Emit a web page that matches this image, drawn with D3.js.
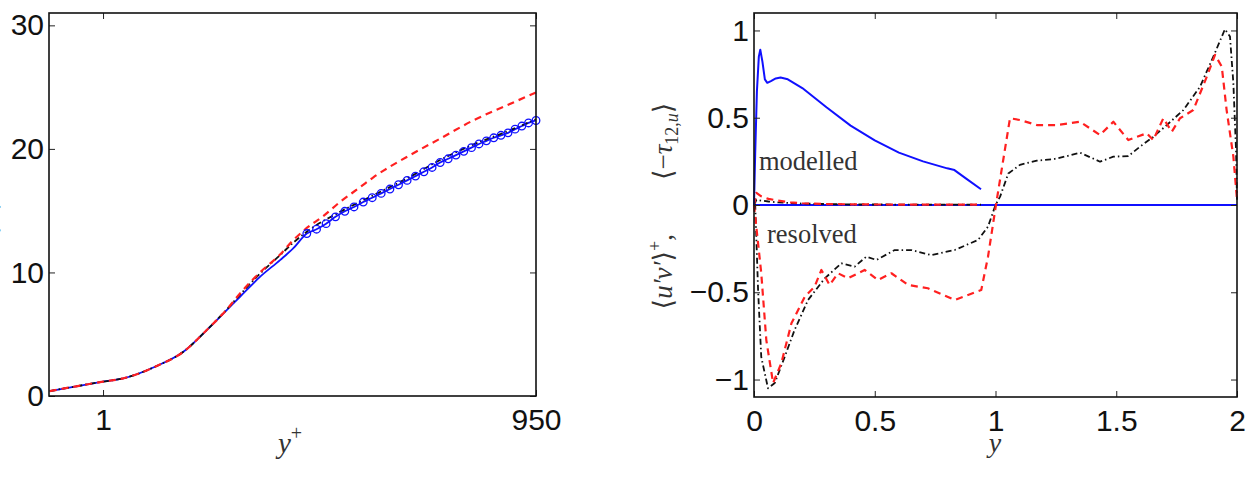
<!DOCTYPE html>
<html>
<head>
<meta charset="utf-8">
<script src="https://cdn.jsdelivr.net/npm/d3@7"></script>
<style>
  body { margin: 0; background: #fff; }
  svg { display: block; }
  .tick text { font-family: "Liberation Sans", Arial, sans-serif; font-size: 30px; fill: #111; }
  .tick line { stroke: #222; stroke-width: 1; }
  .serif { font-family: "Liberation Serif", "DejaVu Serif", serif; }
</style>
</head>
<body>
<div class="chart"></div>
<script>
// ---- left panel: mean velocity vs y+ (log axis) ----
const wallYPlus = [0.43, 1.0, 1.38, 2.34, 3.57, 5.17, 7.09, 8.75, 12.0, 16.5, 20.3];
const wallU     = [0.4, 1.16, 1.43, 2.43, 3.58, 5.34, 6.95, 8.03, 9.64, 11.0, 11.94];
const circleYPlus = [25.2, 29.4, 34.2, 39.7, 46.0, 53.2, 61.6, 71.0, 81.8, 94.0, 107.7, 123.4, 140.9, 161.0,
  183.2, 208.3, 236.5, 267.4, 302.7, 342.0, 385.2, 433.3, 486.3, 545.4, 610.0, 682.0, 759.0, 844.0, 950];
const circleU = [13.15, 13.5, 13.95, 14.5, 14.95, 15.3, 15.7, 16.05, 16.4, 16.75, 17.1, 17.45, 17.8, 18.15,
  18.5, 18.9, 19.2, 19.5, 19.8, 20.1, 20.4, 20.65, 20.9, 21.1, 21.3, 21.6, 21.85, 22.1, 22.3];
const redYPlus = [0.43, 1.0, 1.38, 2.34, 3.57, 5.17, 7.09, 8.75, 12.0, 16.5, 20.3, 25.2, 32.6, 42.6, 58.6, 72.3, 122.7, 208, 352, 597, 950];
const redU     = [0.4, 1.16, 1.43, 2.43, 3.58, 5.34, 7.0, 8.3, 10.0, 11.45, 12.6, 13.6, 14.55, 15.7, 16.9, 17.7, 19.35, 20.83, 22.31, 23.52, 24.57];
const blackYPlus = [0.43, 1.0, 1.38, 2.34, 3.57, 5.17, 7.09, 8.75, 12.0, 16.5, 20.3, 25.2, 42.6, 72.3, 122.7, 208, 352, 597, 950];
const blackU     = [0.4, 1.16, 1.43, 2.43, 3.58, 5.34, 7.0, 8.2, 9.9, 11.4, 12.4, 13.3, 14.9, 16.25, 17.6, 19.1, 20.35, 21.4, 22.4];
const leftXTicks = [1, 950];
const leftYTicks = [0, 10, 20, 30];

// ---- right panel: shear stresses vs y ----
const modBlueY = [0, 0.005, 0.012, 0.02, 0.026, 0.035, 0.045, 0.055, 0.07, 0.09, 0.11, 0.14, 0.2, 0.3, 0.4, 0.5, 0.6, 0.7, 0.8, 0.83, 0.88, 0.94];
const modBlueV = [0, 0.3, 0.65, 0.85, 0.89, 0.82, 0.72, 0.70, 0.71, 0.725, 0.73, 0.72, 0.67, 0.56, 0.455, 0.37, 0.3, 0.25, 0.21, 0.2, 0.15, 0.09];
const modRedY = [0, 0.01, 0.03, 0.06, 0.1, 0.15, 0.2, 0.3, 0.5, 0.7, 0.94];
const modRedV = [0, 0.07, 0.05, 0.035, 0.025, 0.015, 0.01, 0.005, 0.003, 0.002, 0.002];
const modBlackY = [0, 0.01, 0.03, 0.06, 0.1, 0.2, 0.4, 0.94];
const modBlackV = [0, 0.03, 0.025, 0.02, 0.015, 0.008, 0.003, 0.002];
const resBlueY = [0, 2];
const resBlueV = [0, 0];
const resBlackY = [0, 0.005, 0.017, 0.03, 0.058, 0.086, 0.127, 0.168, 0.224, 0.293, 0.362, 0.417, 0.465, 0.507, 0.583, 0.651, 0.734, 0.831, 0.928, 0.969, 1.0,
  1.019, 1.053, 1.101, 1.171, 1.239, 1.295, 1.35, 1.433, 1.488, 1.55, 1.598, 1.653, 1.709, 1.778, 1.847, 1.902, 1.95, 1.971, 1.985, 1.996, 2.0];
const resBlackV = [0, 0, -0.49, -0.87, -1.05, -1.02, -0.87, -0.716, -0.544, -0.42, -0.334, -0.353, -0.296, -0.315, -0.258, -0.258, -0.287, -0.258, -0.2, -0.124, 0,
  0.048, 0.18, 0.23, 0.254, 0.262, 0.28, 0.30, 0.248, 0.277, 0.28, 0.334, 0.39, 0.458, 0.544, 0.678, 0.85, 1.007, 0.965, 0.697, 0.315, 0.03];
const resRedY = [0, 0.03, 0.051, 0.079, 0.113, 0.155, 0.21, 0.251, 0.279, 0.313, 0.348, 0.389, 0.458, 0.513, 0.569, 0.638, 0.72, 0.831, 0.941, 0.969, 1.003,
  1.032, 1.06, 1.101, 1.171, 1.253, 1.35, 1.433, 1.488, 1.55, 1.626, 1.653, 1.695, 1.73, 1.764, 1.819, 1.875, 1.909, 1.937, 1.957, 1.985, 2.0];
const resRedV = [0, -0.39, -0.774, -1.02, -0.907, -0.678, -0.526, -0.468, -0.372, -0.458, -0.391, -0.42, -0.372, -0.43, -0.391, -0.458, -0.477, -0.544, -0.487, -0.296, 0.01,
  0.258, 0.497, 0.487, 0.458, 0.458, 0.477, 0.401, 0.477, 0.372, 0.411, 0.372, 0.497, 0.42, 0.497, 0.544, 0.735, 0.86, 0.793, 0.544, 0.277, 0.03];
const rightXTicks = [0, 0.5, 1, 1.5, 2];
const rightYTicks = [-1, -0.5, 0, 0.5, 1];

const width = 1248, height = 478;
const svg = d3.select('.chart').append('svg')
  .attr('width', width).attr('height', height);

const zip = (xs, ys) => xs.map((x, i) => [x, ys[i]]);
const fmt = d => d < 0 ? '\u2212' + Math.abs(d) : String(d);

function frame(x, y, xTicks, yTicks) {
  const [x0, x1] = x.range(), [y0, y1] = y.range();
  const g = svg.append('g');
  g.append('g').attr('transform', `translate(0,${y0})`)
    .call(d3.axisBottom(x).tickValues(xTicks).tickFormat(fmt).tickSize(-6).tickSizeOuter(0).tickPadding(13));
  g.append('g').attr('transform', `translate(0,${y1})`)
    .call(d3.axisTop(x).tickValues(xTicks).tickFormat('').tickSize(-6).tickSizeOuter(0));
  g.append('g').attr('transform', `translate(${x0},0)`)
    .call(d3.axisLeft(y).tickValues(yTicks).tickFormat(fmt).tickSize(-6).tickSizeOuter(0).tickPadding(5));
  g.append('g').attr('transform', `translate(${x1},0)`)
    .call(d3.axisRight(y).tickValues(yTicks).tickFormat('').tickSize(-6).tickSizeOuter(0));
  g.selectAll('.domain').remove();
  g.selectAll('.tick text').attr('font-family', null).attr('font-size', null);
  g.append('rect')
    .attr('x', x0).attr('y', y1).attr('width', x1 - x0).attr('height', y0 - y1)
    .attr('fill', 'none').attr('stroke', '#111').attr('stroke-width', 1.6);
}

function line(x, y, pts, color, dash, w, curve) {
  svg.append('path')
    .datum(pts)
    .attr('d', d3.line().curve(curve || d3.curveLinear).x(d => x(d[0])).y(d => y(d[1])))
    .attr('fill', 'none')
    .attr('stroke', color)
    .attr('stroke-width', w)
    .attr('stroke-dasharray', dash)
    .attr('stroke-linejoin', 'round');
}

// left panel
const xL = d3.scaleLog().domain([0.425, 950]).range([49, 536]);
const yL = d3.scaleLinear().domain([0, 31]).range([396, 13]);

const bluePts = zip(wallYPlus, wallU).concat(zip(circleYPlus, circleU));
line(xL, yL, bluePts, '#1010ff', null, 1.8, d3.curveMonotoneX);
line(xL, yL, zip(blackYPlus, blackU), '#111', '6,3,1.5,3', 1.8, d3.curveMonotoneX);
line(xL, yL, zip(redYPlus, redU), '#ff2020', '7,5', 2.2, d3.curveMonotoneX);
svg.append('g').selectAll('circle')
  .data(zip(circleYPlus, circleU))
  .enter().append('circle')
  .attr('cx', d => xL(d[0])).attr('cy', d => yL(d[1]))
  .attr('r', 3.8).attr('fill', 'none').attr('stroke', '#1010ff').attr('stroke-width', 1.3);
frame(xL, yL, leftXTicks, leftYTicks);

svg.append('text').attr('class', 'serif')
  .attr('x', 290).attr('y', 453).attr('text-anchor', 'middle')
  .attr('font-size', 29).attr('font-style', 'italic').attr('fill', '#333')
  .text('y').append('tspan').attr('dy', -13).attr('font-size', 20).attr('font-style', 'normal').text('+');

svg.append('text').attr('class', 'serif')
  .attr('transform', 'translate(-3,212) rotate(-90)').attr('text-anchor', 'middle')
  .attr('font-size', 24).attr('fill', '#333')
  .text('\u27E8U\u27E9+');

// right panel
const xR = d3.scaleLinear().domain([0, 2]).range([754, 1237]);
const yR = d3.scaleLinear().domain([-1.1, 1.1]).range([397, 13]);

line(xR, yR, zip(resBlueY, resBlueV), '#1010ff', null, 2);
line(xR, yR, zip(modBlackY, modBlackV), '#111', '6,3,1.5,3', 1.8);
line(xR, yR, zip(modRedY, modRedV), '#ff2020', '7,5', 2.2);
line(xR, yR, zip(resBlackY, resBlackV), '#111', '6,3,1.5,3', 1.8);
line(xR, yR, zip(resRedY, resRedV), '#ff2020', '7,5', 2.2);
line(xR, yR, zip(modBlueY, modBlueV), '#1010ff', null, 2);
frame(xR, yR, rightXTicks, rightYTicks);

svg.append('text').attr('class', 'serif')
  .attr('x', 759).attr('y', 170).attr('font-size', 26.5).attr('fill', '#333').text('modelled');
svg.append('text').attr('class', 'serif')
  .attr('x', 767).attr('y', 243).attr('font-size', 26.5).attr('fill', '#333').text('resolved');

svg.append('text').attr('class', 'serif')
  .attr('x', 995).attr('y', 452).attr('text-anchor', 'middle')
  .attr('font-size', 28).attr('font-style', 'italic').attr('fill', '#333').text('y');

const yl = svg.append('text').attr('class', 'serif')
  .attr('transform', 'translate(672,206) rotate(-90)').attr('text-anchor', 'middle')
  .attr('font-size', 27).attr('fill', '#333');
yl.append('tspan').text('\u27E8');
yl.append('tspan').attr('font-style', 'italic').text('u\u2032v\u2032');
yl.append('tspan').text('\u27E9');
yl.append('tspan').attr('dy', -11).attr('font-size', 18).text('+');
yl.append('tspan').attr('dy', 11).text(',\u2003\u2003\u27E8\u2212');
yl.append('tspan').attr('font-style', 'italic').text('\u03C4');
yl.append('tspan').attr('dy', 6).attr('font-size', 18).text('12,');
yl.append('tspan').attr('font-size', 18).attr('font-style', 'italic').text('u');
yl.append('tspan').attr('dy', -6).text('\u27E9');
</script>
</body>
</html>
